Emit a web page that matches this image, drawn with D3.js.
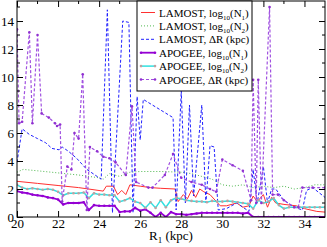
<!DOCTYPE html>
<html>
<head>
<meta charset="utf-8">
<script src="https://d3js.org/d3.v7.min.js"></script>
<style>
  body { margin: 0; background: #fff; }
  text { font-family: "Liberation Serif", "DejaVu Serif", serif; }
</style>
</head>
<body>
<div id="chart"></div>
<script>
// ---- data ----
var xTicks = [20, 22, 24, 26, 28, 30, 32, 34];
var yTicks = [0, 2, 4, 6, 8, 10, 12, 14];

var lamostN1R = [20, 21, 22, 23, 24.2, 24.35, 24.7, 24.9, 25.1, 25.3, 25.5, 26, 26.5, 27, 27.7, 27.85, 28.1, 28.3, 28.5, 28.7, 28.9, 29.1, 29.4, 29.9, 30.2, 30.7, 31.0, 31.3, 31.5, 31.7, 32.0, 32.2, 32.4, 32.6, 33.0, 33.6, 34.0, 34.6, 35];
var lamostN1  = [2.55, 2.4, 2.25, 2.1, 1.85, 2.2, 2.2, 1.6, 1.9, 1.6, 2.3, 2.2, 2.1, 2.05, 2.0, 1.1, 1.6, 1.3, 1.9, 1.4, 2.0, 1.8, 1.6, 0.8, 0.8, 1.0, 0.7, 0.8, 1.5, 1.1, 1.6, 0.7, 1.4, 1.0, 0.9, 0.8, 0.6, 0.4, 0.35];

var lamostN2R = [20, 20.3, 21, 22, 23, 24, 24.2, 24.5, 25, 25.5, 26, 27, 28, 28.5, 29, 29.5, 30, 30.5, 31, 31.5, 32, 32.5, 33, 33.5, 34, 34.5, 35];
var lamostN2  = [3.2, 3.4, 3.3, 3.15, 3.0, 2.8, 2.7, 3.1, 2.9, 3.2, 3.25, 3.25, 3.2, 3.1, 2.9, 2.7, 2.3, 2.2, 2.3, 2.1, 2.2, 2.1, 2.2, 2.0, 2.1, 2.3, 2.3];

var lamostDRR = [20, 20.25, 20.6, 21.0, 21.4, 21.7, 22.05, 22.2, 22.5, 22.9, 23.4, 23.8, 24.1, 24.4, 24.65, 25.15, 25.45, 25.65, 25.85, 26.0, 26.15, 27.6, 27.75, 28.0, 28.2, 28.4, 28.6, 29.0, 29.2, 29.4, 29.6, 29.8, 30.2, 30.7, 31.0, 31.3, 31.5, 31.7, 32.0, 32.2, 32.4, 32.6, 33.0, 33.5, 33.9, 34.1, 34.4, 35];
var lamostDR  = [3.9, 6.3, 5.9, 5.6, 5.3, 4.9, 4.8, 5.0, 4.7, 4.2, 3.4, 3.0, 2.7, 14.8, 0.3, 14.0, 13.9, 0.3, 8.6, 5.5, 8.4, 7.1, 0.5, 9.0, 1.0, 8.0, 1.5, 8.0, 1.0, 5.1, 5.0, 0.5, 0.6, 1.0, 0.7, 0.4, 3.4, 1.0, 3.6, 1.0, 2.0, 2.0, 1.2, 0.7, 0.5, 1.9, 2.1, 1.4];

var apoR = [20, 20.25, 20.5, 20.75, 21, 21.25, 21.5, 21.75, 22, 22.25, 22.5, 22.75, 23, 23.25, 23.5, 23.75, 24, 24.25, 24.5, 24.75, 25, 25.25, 25.5, 25.75, 26, 26.25, 26.5, 26.75, 27, 27.25, 27.5, 27.75, 28, 28.25, 28.5, 28.75, 29, 29.25, 29.5, 29.75, 30, 30.25, 30.5, 30.75, 31, 31.25, 31.5, 31.75, 32, 32.25, 32.5, 32.75, 33, 33.25, 33.5, 33.75, 34, 34.25, 34.5, 34.75, 35];
var apoN1 = [1.85, 1.75, 1.7, 1.6, 1.55, 1.5, 1.4, 1.35, 1.25, 0.9, 1.0, 1.0, 1.0, 1.05, 0.5, 0.85, 0.8, 0.8, 0.8, 0.8, 0.35, 0.4, 0.4, 0.65, 0.45, 0.55, 0.3, 0.0, 0.3, 0.0, 0.35, 0.2, 0.2, 0.15, 0.2, 0.25, 0.3, 0.3, 0.3, 0.3, 0.3, 0.3, 0.3, 0.3, 0.25, 0.3, 0, 0, 0, 0, 0, 0, 0, 0, 0, 0, 0, 0, 0, 0, 0];
var apoN2 = [2.3, 2.1, 2.0, 2.05, 2.0, 1.95, 2.0, 1.95, 1.8, 1.55, 1.7, 1.7, 1.7, 1.75, 1.35, 1.7, 1.6, 1.6, 1.55, 1.55, 1.1, 1.2, 1.35, 1.1, 1.0, 0.65, 1.05, 0.65, 1.2, 0.7, 1.2, 1.35, 1.3, 1.2, 1.15, 1.1, 1.1, 1.05, 1.15, 1.1, 1.1, 1.15, 1.1, 1.05, 1.0, 0.95, 0.6, 1.2, 1.0, 1.1, 1.35, 0.85, 0.6, 0.7, 0.7, 0.7, 0.7, 0.7, 0.7, 0.7, 0.7];

var apoDRR = [20, 20.1, 20.25, 20.6, 20.75, 21.0, 21.2, 21.55, 21.85, 21.95, 22.1, 22.2, 22.45, 22.65, 22.8, 23.0, 23.2, 23.4, 23.55, 23.9, 24.2, 24.5, 24.8, 25.3, 25.6, 25.8, 26.4, 26.6, 27.2, 27.6, 28.0, 28.5, 29.0, 29.4, 29.7, 30.0, 30.5, 31.0, 31.4, 31.5, 31.65, 31.75, 31.9, 32.3, 32.45, 32.7, 33.0, 33.5, 33.7, 33.9, 34.4, 35];
var apoDR  = [13.4, 6.7, 6.8, 13.2, 6.7, 13.0, 7.4, 7.1, 6.7, 6.5, 6.6, 1.1, 3.6, 3.4, 6.0, 5.6, 10.2, 0.5, 5.0, 4.7, 4.3, 4.2, 3.9, 3.0, 7.9, 2.5, 2.1, 2.1, 3.0, 4.5, 2.8, 2.5, 2.3, 2.0, 1.8, 4.1, 3.7, 3.3, 1.2, 9.8, 1.0, 9.8, 1.0, 15.0, 1.6, 1.6, 1.2, 0.7, 0.7, 2.1, 2.1, 2.1];

var series = [
  {name: ["LAMOST, log", "10", "(N", "1", ")"], r: lamostN1R, v: lamostN1, color: "#ff3030", width: 1, dash: null, marker: null},
  {name: ["LAMOST, log", "10", "(N", "2", ")"], r: lamostN2R, v: lamostN2, color: "#50b850", width: 1, dash: "1,2", marker: null},
  {name: ["LAMOST, \u0394R (kpc)"], r: lamostDRR, v: lamostDR, color: "#2020ff", width: 1, dash: "3,2", marker: null},
  {name: ["APOGEE, log", "10", "(N", "1", ")"], r: apoR, v: apoN1, color: "#9400d3", width: 1.8, dash: null, marker: "#9400d3"},
  {name: ["APOGEE, log", "10", "(N", "2", ")"], r: apoR, v: apoN2, color: "#30e0e0", width: 1.5, dash: null, marker: "#c0a0a0"},
  {name: ["APOGEE, \u0394R (kpc)"], r: apoDRR, v: apoDR, color: "#a050e0", width: 1.2, dash: "3,2", marker: "#9030d0"}
];

// ---- chart ----
var margin = {top: 1, right: 2, bottom: 30, left: 17},
    width = 327 - margin.left - margin.right,
    height = 217 - margin.top;

var svg = d3.select("#chart")
  .append("svg")
    .attr("width", 327)
    .attr("height", 247)
  .append("g")
    .attr("transform", "translate(" + margin.left + "," + margin.top + ")");

var x = d3.scaleLinear().domain([20, 35]).range([0, width]);
var y = d3.scaleLinear().domain([0, 15.43]).range([height, 0]);

svg.append("defs").append("clipPath").attr("id", "clip")
  .append("rect").attr("width", width).attr("height", height);

var plot = svg.append("g").attr("clip-path", "url(#clip)");

var line = d3.line()
  .x(function(d) { return x(d[0]); })
  .y(function(d) { return y(d[1]); });

series.forEach(function(s) {
  var pts = s.r.map(function(r, i) { return [r, s.v[i]]; });
  plot.append("path")
    .datum(pts)
    .attr("fill", "none")
    .attr("stroke", s.color)
    .attr("stroke-width", s.width)
    .attr("stroke-dasharray", s.dash)
    .attr("d", line);
  if (s.marker) {
    plot.selectAll(null)
      .data(pts)
      .enter()
      .append("circle")
        .attr("cx", function(d) { return x(d[0]); })
        .attr("cy", function(d) { return y(d[1]); })
        .attr("r", 1.3)
        .attr("fill", s.marker);
  }
});

// axes, ticks pointing inwards
var minorX = d3.range(21, 35, 2), minorY = d3.range(1, 16, 2);

svg.append("g")
  .attr("transform", "translate(0," + height + ")")
  .call(d3.axisBottom(x).tickValues(xTicks).tickSize(-6).tickSizeOuter(0).tickPadding(2))
  .call(function(g) { g.select(".domain").remove(); })
  .selectAll("text").style("font-size", "13px").attr("fill", "#000");

svg.append("g")
  .call(d3.axisLeft(y).tickValues(yTicks).tickSize(-6).tickSizeOuter(0).tickPadding(3))
  .call(function(g) { g.select(".domain").remove(); })
  .selectAll("text").style("font-size", "13px").attr("fill", "#000");

svg.append("g")
  .call(d3.axisTop(x).tickValues(xTicks).tickSize(-6).tickSizeOuter(0).tickFormat(""))
  .call(function(g) { g.select(".domain").remove(); });

svg.append("g")
  .attr("transform", "translate(" + width + ",0)")
  .call(d3.axisRight(y).tickValues(yTicks).tickSize(-6).tickSizeOuter(0).tickFormat(""))
  .call(function(g) { g.select(".domain").remove(); });

// minor ticks
minorX.forEach(function(t) {
  svg.append("line").attr("x1", x(t)).attr("x2", x(t)).attr("y1", height).attr("y2", height - 3).attr("stroke", "#000");
  svg.append("line").attr("x1", x(t)).attr("x2", x(t)).attr("y1", 0).attr("y2", 3).attr("stroke", "#000");
});
minorY.forEach(function(t) {
  svg.append("line").attr("x1", 0).attr("x2", 3).attr("y1", y(t)).attr("y2", y(t)).attr("stroke", "#000");
  svg.append("line").attr("x1", width).attr("x2", width - 3).attr("y1", y(t)).attr("y2", y(t)).attr("stroke", "#000");
});

svg.append("rect")
  .attr("width", width).attr("height", height)
  .attr("fill", "none").attr("stroke", "#000");

// x label
var xl = svg.append("text")
  .attr("x", width / 2).attr("y", height + 23)
  .attr("text-anchor", "middle")
  .style("font-size", "13px");
xl.append("tspan").text("R");
xl.append("tspan").attr("dy", 3).style("font-size", "9px").text("1");
xl.append("tspan").attr("dy", -3).text(" (kpc)");

// legend
var lg = svg.append("g").attr("transform", "translate(120,0)");
lg.append("rect")
  .attr("width", 115).attr("height", 90)
  .attr("fill", "#fff").attr("stroke", "#000");

series.forEach(function(s, i) {
  var ly = 11.5 + i * 13.4;
  lg.append("line")
    .attr("x1", 4).attr("x2", 18).attr("y1", ly).attr("y2", ly)
    .attr("stroke", s.color).attr("stroke-width", s.width)
    .attr("stroke-dasharray", s.dash);
  if (s.marker) {
    [4, 18].forEach(function(mx) {
      lg.append("circle").attr("cx", mx).attr("cy", ly).attr("r", 1.3).attr("fill", s.marker);
    });
  }
  var t = lg.append("text").attr("x", 22).attr("y", ly + 4).style("font-size", "11px");
  s.name.forEach(function(part, j) {
    var sub = j % 2 === 1;
    t.append("tspan")
      .attr("dy", sub ? 3 : (j > 0 ? -3 : 0))
      .style("font-size", sub ? "7px" : "11px")
      .text(part);
  });
});
</script>
</body>
</html>
